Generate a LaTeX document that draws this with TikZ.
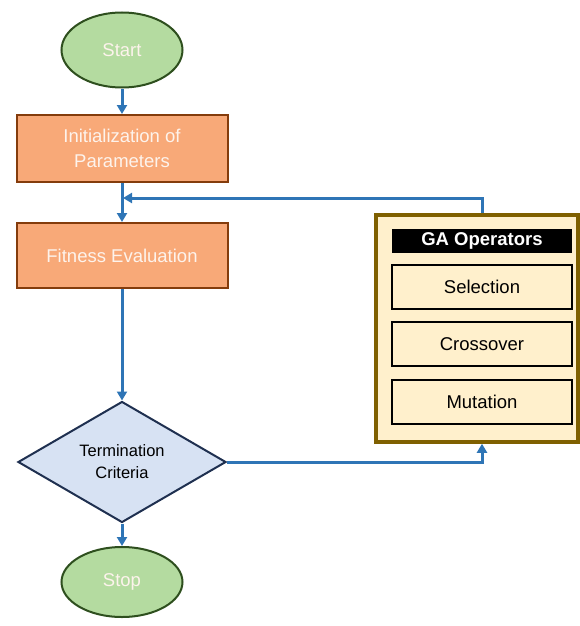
\documentclass[tikz,border=0pt]{standalone}
\usepackage{fontspec}
\setmainfont{Liberation Sans}
\usetikzlibrary{shapes.geometric,arrows.meta}
\definecolor{flowblue}{HTML}{2E75B6}
\definecolor{termfill}{HTML}{B4DBA0}
\definecolor{termdraw}{HTML}{2E4F1E}
\definecolor{procfill}{HTML}{F8A978}
\definecolor{procdraw}{HTML}{843C0C}
\definecolor{decfill}{HTML}{D7E2F3}
\definecolor{decdraw}{HTML}{1F3050}
\definecolor{gafill}{HTML}{FFF0CC}
\definecolor{gadraw}{HTML}{7F6000}
\definecolor{lighttext}{HTML}{FDF3EC}
\begin{document}
\begin{tikzpicture}[x=1pt,y=-1pt,
  term/.style={ellipse,draw=termdraw,fill=termfill,line width=2pt,minimum width=121pt,minimum height=75pt,inner sep=0pt,text=lighttext,font=\fontsize{18.5}{21}\selectfont},
  proc/.style={rectangle,draw=procdraw,fill=procfill,line width=2pt,minimum width=211pt,inner sep=0pt,text=lighttext,align=center,font=\fontsize{18.5}{25}\selectfont},
  dec/.style={diamond,draw=decdraw,fill=decfill,line width=2pt,minimum width=208pt,minimum height=121pt,aspect=1.72,inner sep=0pt,align=center,font=\fontsize{16.5}{22}\selectfont},
  opbox/.style={rectangle,draw=black,fill=gafill,line width=2pt,minimum width=180pt,minimum height=44pt,inner sep=0pt,font=\fontsize{18.5}{21}\selectfont},
  flow/.style={draw=flowblue,line width=3pt,-{Triangle[length=9pt,width=10pt]}}
]
\useasboundingbox (0,0) rectangle (579,626);
\node[term] (start) at (122,50) {Start};
\node[proc,minimum height=67pt] (init) at (122,148.5) {Initialization of\\Parameters};
\node[proc,minimum height=65pt] (fit) at (122,255.5) {Fitness Evaluation};
\node[dec] (term) at (122,462) {Termination\\Criteria};
\node[term,minimum height=70pt] (stop) at (122,582) {Stop};
\node[rectangle,draw=gadraw,fill=gafill,line width=3.5pt,minimum width=202pt,minimum height=227pt,inner sep=0pt] (ga) at (477,328.5) {};
\node[rectangle,fill=black,minimum width=180pt,minimum height=24pt,inner sep=0pt,text=white,font=\bfseries\fontsize{18.5}{21}\selectfont] (title) at (482,241) {GA Operators};
\node[opbox] (sel) at (482,287) {Selection};
\node[opbox] (cro) at (482,344) {Crossover};
\node[opbox] (mut) at (482,401.5) {Mutation};
\coordinate (join) at (123,198);
\draw[flow] (start) -- (init);
\draw[flow] (init) -- (fit);
\draw[flow] (fit) -- (term);
\draw[flow] (term) -- (stop);
\draw[flow] (term.east) -| ([xshift=5pt]ga.south);
\draw[flow] ([xshift=5pt]ga.north) |- (join);
\end{tikzpicture}
\end{document}
